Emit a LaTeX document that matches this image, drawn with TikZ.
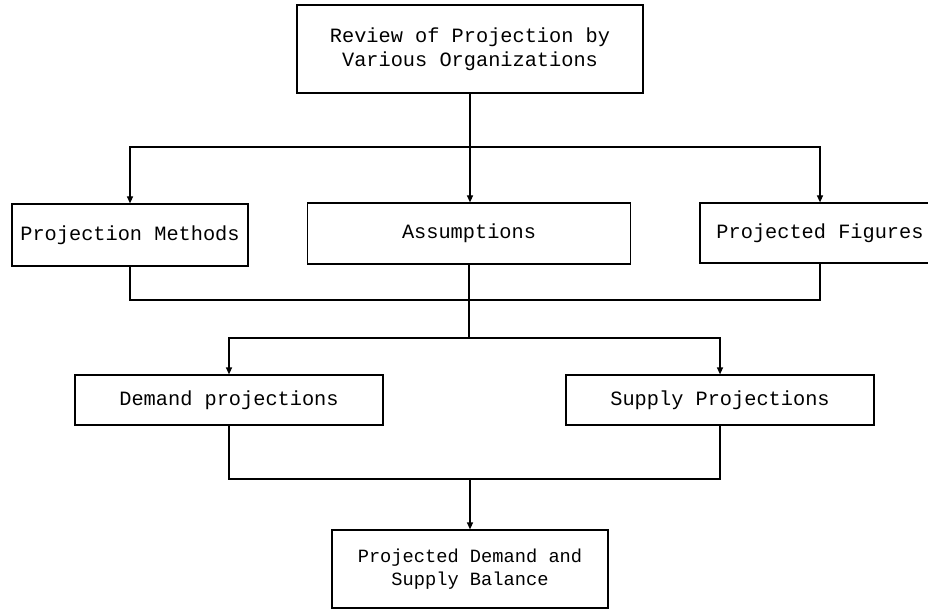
\documentclass[tikz,border=0pt]{standalone}
\usepackage{fontspec}
\setmonofont{Liberation Mono}
\usetikzlibrary{arrows.meta}
\begin{document}
\begin{tikzpicture}[x=1pt,y=-1pt,
  box/.style={draw, line width=1.2pt, inner sep=0pt, align=center,
    font=\ttfamily\fontsize{20.3}{24}\selectfont},
  smallbox/.style={box, font=\ttfamily\fontsize{18.7}{24}\selectfont},
  conn/.style={line width=1.2pt},
  arr/.style={conn, -{Triangle[length=7pt,width=6pt]}}]
\useasboundingbox (0,0) rectangle (928,609);
\fill[white] (0,0) rectangle (928,609);

% nodes
\node[box, minimum width=346pt, minimum height=88pt] (top) at (470,49)
  {\raisebox{4pt}{\shortstack{Review of Projection by\\[2pt]Various Organizations}}};
\node[box, minimum width=236pt, minimum height=62pt] (pm) at (130,235)
  {\raisebox{4pt}{Projection Methods}};
\node[box, minimum width=323pt, minimum height=61pt] (asm) at (469,233.5)
  {\raisebox{5pt}{Assumptions}};
\node[box, minimum width=240pt, minimum height=60pt] (pf) at (820,233)
  {\raisebox{4pt}{Projected Figures}};
\node[box, minimum width=308pt, minimum height=50pt] (dem) at (229,400)
  {Demand projections};
\node[box, minimum width=308pt, minimum height=50pt] (sup) at (720,400)
  {Supply Projections};
\node[smallbox, minimum width=276pt, minimum height=78pt] (bot) at (470,569)
  {\raisebox{-4pt}{\shortstack{Projected Demand and\\[2pt]Supply Balance}}};

% junctions
\coordinate (b1) at (470,147);
\coordinate (m1) at (470,300);
\coordinate (m2) at (469,338);
\coordinate (m3) at (470,479);

% connectors
\draw[conn] (top.south) -- (b1);
\draw[arr] (b1) -| (pm.north);
\draw[arr] (b1) -- (asm.north -| b1);
\draw[arr] (b1) -| (pf.north);

\draw[conn] (pm.south) |- (m1) -| (pf.south);
\draw[conn] (asm.south) -- (m2);
\draw[arr] (m2) -| (dem.north);
\draw[arr] (m2) -| (sup.north);

\draw[conn] (dem.south) |- (m3) -| (sup.south);
\draw[arr] (m3) -- (bot.north);
\end{tikzpicture}
\end{document}
